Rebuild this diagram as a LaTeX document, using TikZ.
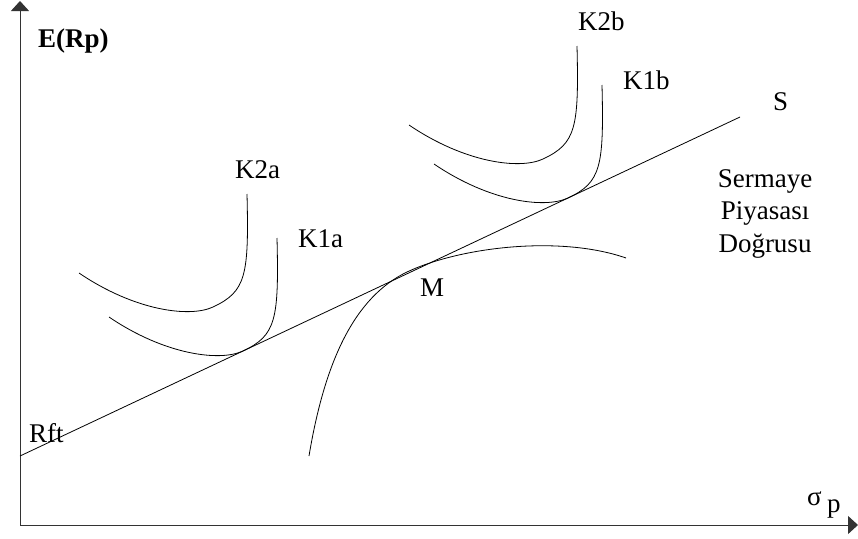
\documentclass[tikz,border=0pt]{standalone}
\usepackage{fontspec}
\setmainfont{Liberation Serif}
\usetikzlibrary{arrows.meta}
\tikzset{
  axis/.style={line width=1pt, draw=black!80, -{Triangle[width=18pt,length=10pt]}},
  curve/.style={line width=0.8pt},
  lbl/.style={inner sep=0pt, anchor=base west, font=\fontsize{27}{32}\selectfont},
}
\newcommand\indiffpath{(277,238) .. controls (279,320) and (276,335.5) .. (243,351)
   .. controls (220,361.8) and (165,355) .. (109,317)}
\begin{document}
\begin{tikzpicture}[x=1pt,y=-1pt]
\useasboundingbox (0,0) rectangle (858,538);
% axes
\coordinate (o) at (20,525);
\coordinate (ytop) at (20,1);
\coordinate (xend) at (858,525);
\draw[axis] (o) -- (ytop);
\draw[axis] (o) -- (xend);
% capital market line
\coordinate (rft) at (20,456);
\coordinate (s) at (740,117);
\draw[curve] (rft) -- (s);
% efficient frontier
\draw[curve] (309,456) .. controls (325,360) and (355,297) .. (407,272)
  .. controls (460,247) and (560,235) .. (626,258);
% indifference curves
\draw[curve] \indiffpath;
\begin{scope}[shift={(-30,-44)}]
  \draw[curve] \indiffpath;
\end{scope}
\begin{scope}[shift={(325,-153)}]
  \draw[curve] \indiffpath;
\end{scope}
\begin{scope}[shift={(300,-192)}]
  \draw[curve] \indiffpath;
\end{scope}
% labels
\node[lbl, font=\fontsize{27}{32}\selectfont\bfseries] (erp) at (38,47) {E(Rp)};
\node[lbl] (rftl) at (29,442) {Rft};
\node[lbl] (k2a) at (235,178) {K2a};
\node[lbl] (k1a) at (298,247) {K1a};
\node[lbl] (m) at (420,296) {M};
\node[lbl] (k2b) at (578,30) {K2b};
\node[lbl] (k1b) at (623,89) {K1b};
\node[lbl] (sl) at (773,110) {S};
\node[anchor=base, inner sep=0pt, align=center, font=\fontsize{27}{32.5}\selectfont] (spd) at (765,252) {Sermaye\\Piyasası\\Doğrusu};
\node[lbl] (sig) at (807,505) {σ};
\node[lbl] (sigp) at (827,512) {p};
\end{tikzpicture}
\end{document}
